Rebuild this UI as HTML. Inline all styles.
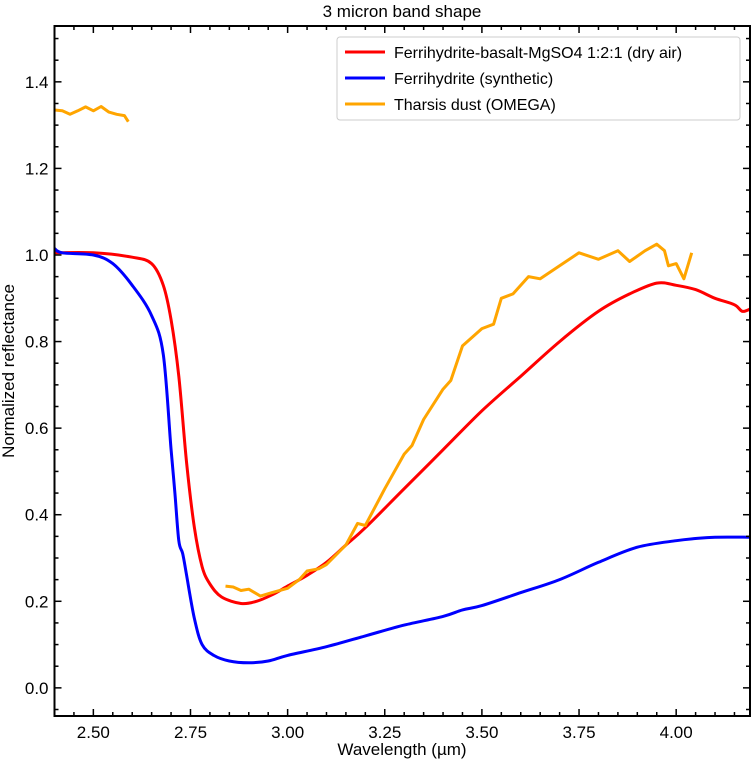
<!DOCTYPE html>
<html><head><meta charset="utf-8"><style>
body{margin:0;background:#fff;font-family:"Liberation Sans",sans-serif}
svg text{font-family:"Liberation Sans",sans-serif;fill:#000}
</style></head><body>
<svg id="chart" width="751" height="763" xmlns="http://www.w3.org/2000/svg">
<text x="402" y="17" font-size="17" text-anchor="middle">3 micron band shape</text>
<g id="marks"></g>
<rect x="54.5" y="26" width="695.5" height="690" fill="none" stroke="#000" stroke-width="2"/>
<g id="ticks"></g>
<text x="402" y="755" font-size="17" text-anchor="middle">Wavelength (µm)</text>
<text transform="translate(14,371) rotate(-90)" font-size="17" text-anchor="middle">Normalized reflectance</text>
<g>
<rect x="337" y="37" width="403" height="83" fill="#fff" stroke="#ccc" rx="3"/>
<line x1="345" y1="52" x2="385" y2="52" stroke="#f00" stroke-width="3"/>
<text x="394" y="58" font-size="16">Ferrihydrite-basalt-MgSO4 1:2:1 (dry air)</text>
<line x1="345" y1="78" x2="385" y2="78" stroke="#00f" stroke-width="3"/>
<text x="394" y="84" font-size="16">Ferrihydrite (synthetic)</text>
<line x1="345" y1="104" x2="385" y2="104" stroke="#ffa500" stroke-width="3"/>
<text x="394" y="110" font-size="16">Tharsis dust (OMEGA)</text>
</g>
</svg>
<script>
const redX=[2.40,2.5,2.6,2.65,2.68,2.7,2.72,2.74,2.76,2.78,2.8,2.83,2.88,2.92,2.96,3.0,3.05,3.1,3.15,3.2,3.3,3.4,3.5,3.6,3.7,3.8,3.88,3.95,4.0,4.05,4.1,4.15,4.17,4.19];
const redY=[1.005,1.005,0.995,0.98,0.93,0.85,0.72,0.52,0.37,0.28,0.24,0.21,0.195,0.20,0.215,0.235,0.26,0.29,0.33,0.37,0.46,0.55,0.64,0.72,0.80,0.87,0.91,0.935,0.93,0.92,0.90,0.885,0.87,0.875];
const blueX=[2.4,2.42,2.5,2.55,2.6,2.65,2.68,2.70,2.71,2.72,2.73,2.74,2.76,2.78,2.81,2.85,2.9,2.95,3.0,3.1,3.2,3.3,3.4,3.45,3.5,3.6,3.7,3.8,3.9,4.0,4.05,4.1,4.19];
const blueY=[1.015,1.005,1.0,0.98,0.93,0.86,0.77,0.55,0.45,0.34,0.31,0.26,0.16,0.10,0.075,0.062,0.058,0.062,0.075,0.095,0.12,0.145,0.165,0.18,0.19,0.22,0.25,0.29,0.325,0.34,0.345,0.348,0.348];
const orange1X=[2.40,2.42,2.44,2.46,2.48,2.50,2.52,2.54,2.56,2.58,2.59];
const orange1Y=[1.335,1.333,1.325,1.333,1.342,1.333,1.343,1.33,1.325,1.322,1.308];
const orange2X=[2.84,2.86,2.88,2.90,2.93,2.96,3.0,3.03,3.05,3.08,3.1,3.15,3.18,3.2,3.25,3.3,3.32,3.35,3.4,3.42,3.45,3.5,3.53,3.55,3.58,3.62,3.65,3.7,3.75,3.8,3.85,3.88,3.92,3.95,3.97,3.98,4.0,4.02,4.04];
const orange2Y=[0.235,0.233,0.225,0.228,0.212,0.22,0.23,0.25,0.27,0.275,0.285,0.33,0.38,0.375,0.46,0.54,0.56,0.62,0.69,0.71,0.79,0.83,0.84,0.90,0.91,0.95,0.945,0.975,1.005,0.99,1.01,0.985,1.01,1.025,1.01,0.975,0.98,0.945,1.005];
const xTicks=[2.50,2.75,3.00,3.25,3.50,3.75,4.00];
const yTicks=[0.0,0.2,0.4,0.6,0.8,1.0,1.2,1.4];
const xMin=2.4,xMax=4.19,yMin=-0.065,yMax=1.529;
const L=54.5,R=750,T=26,B=716;
const sx=v=>L+(v-xMin)/(xMax-xMin)*(R-L);
const sy=v=>B-(v-yMin)/(yMax-yMin)*(B-T);
const NS='http://www.w3.org/2000/svg';
const marks=document.getElementById('marks');
function line(xs,ys,color,name,smooth){
  const pts=xs.map((x,i)=>[sx(x),sy(ys[i])]);
  let d='M'+pts[0][0].toFixed(1)+','+pts[0][1].toFixed(1);
  for(let i=0;i<pts.length-1;i++){
    const p0=pts[Math.max(i-1,0)],p1=pts[i],p2=pts[i+1],p3=pts[Math.min(i+2,pts.length-1)];
    if(smooth){
      const t=6;
      const c1=[p1[0]+(p2[0]-p0[0])/t,p1[1]+(p2[1]-p0[1])/t];
      const c2=[p2[0]-(p3[0]-p1[0])/t,p2[1]-(p3[1]-p1[1])/t];
      d+=' C'+c1.map(v=>v.toFixed(1)).join(',')+' '+c2.map(v=>v.toFixed(1)).join(',')+' '+p2[0].toFixed(1)+','+p2[1].toFixed(1);
    } else d+=' L'+p2[0].toFixed(1)+','+p2[1].toFixed(1);
  }
  const p=document.createElementNS(NS,'path');
  p.setAttribute('d',d);
  p.setAttribute('fill','none');p.setAttribute('stroke',color);p.setAttribute('stroke-width','3');
  p.setAttribute('stroke-linejoin','round');
  
  
  marks.appendChild(p);
}
line(redX,redY,'#f00','series-ferrihydrite-basalt',true);
line(blueX,blueY,'#00f','series-ferrihydrite-synthetic',true);
line(orange1X,orange1Y,'#ffa500','series-tharsis-dust-1',false);
line(orange2X,orange2Y,'#ffa500','series-tharsis-dust-2',false);
const tg=document.getElementById('ticks');
function tk(x1,y1,x2,y2){const l=document.createElementNS(NS,'line');l.setAttribute('x1',x1);l.setAttribute('y1',y1);l.setAttribute('x2',x2);l.setAttribute('y2',y2);l.setAttribute('stroke','#000');l.setAttribute('stroke-width','1.5');tg.appendChild(l);}
function txt(x,y,s,anchor,name){const t=document.createElementNS(NS,'text');t.setAttribute('x',x);t.setAttribute('y',y);t.setAttribute('font-size','17');t.setAttribute('text-anchor',anchor);t.textContent=s;


tg.appendChild(t);}
for(let v=2.45;v<xMax;v+=0.05){const x=sx(v);const major=xTicks.some(m=>Math.abs(m-v)<1e-6);const len=major?7:4;tk(x,B,x,B-len);tk(x,T,x,T+len);}
for(let v=-0.05;v<yMax;v+=0.05){const y=sy(v);const major=yTicks.some(m=>Math.abs(m-v)<1e-6);const len=major?7:4;tk(L,y,L+len,y);tk(R,y,R-len,y);}
xTicks.forEach(v=>txt(sx(v),B+22,v.toFixed(2),'middle','x-tick-label'));
yTicks.forEach(v=>txt(L-6,sy(v)+6,v.toFixed(1),'end','y-tick-label'));
</script>
</body></html>
